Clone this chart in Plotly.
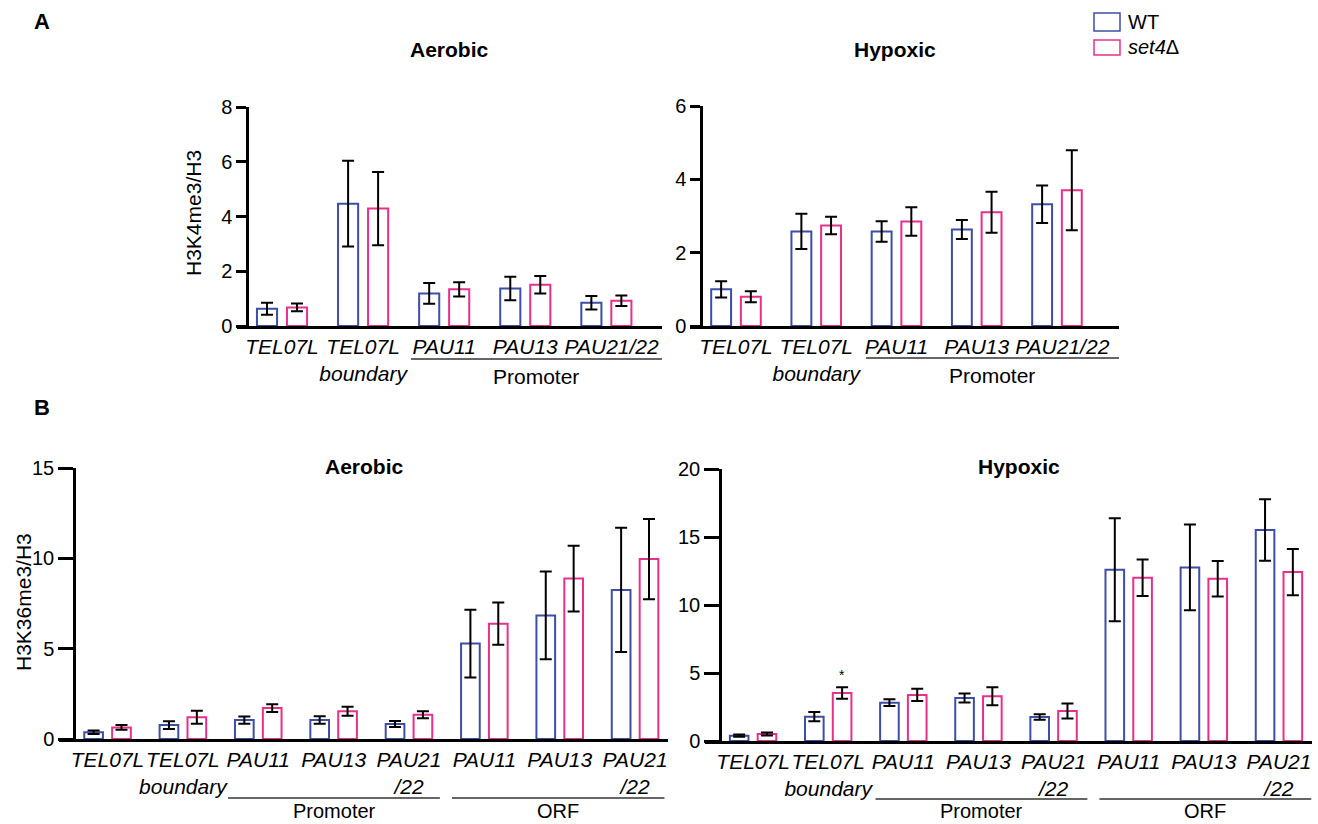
import plotly.graph_objects as go

W, H = 1318, 824

# ---------------- data ----------------
top_labels = ["TEL07L", "TEL07L<br>boundary", "PAU11", "PAU13", "PAU21/22"]
bot_labels = ["TEL07L", "TEL07L<br>boundary", "PAU11", "PAU13", "PAU21<br>/22",
              "PAU11", "PAU13", "PAU21<br>/22"]

# A: H3K4me3/H3
k4_aer_wt = [0.63, 4.47, 1.19, 1.37, 0.85]
k4_aer_wt_err = [0.22, 1.57, 0.38, 0.43, 0.25]
k4_aer_set4 = [0.68, 4.29, 1.34, 1.51, 0.92]
k4_aer_set4_err = [0.14, 1.34, 0.26, 0.32, 0.19]

k4_hyp_wt = [1.00, 2.58, 2.58, 2.63, 3.32]
k4_hyp_wt_err = [0.22, 0.48, 0.28, 0.26, 0.51]
k4_hyp_set4 = [0.80, 2.74, 2.85, 3.10, 3.70]
k4_hyp_set4_err = [0.15, 0.24, 0.39, 0.56, 1.09]

# B: H3K36me3/H3
k36_aer_wt = [0.37, 0.77, 1.05, 1.05, 0.83, 5.28, 6.84, 8.25]
k36_aer_wt_err = [0.10, 0.21, 0.20, 0.21, 0.17, 1.88, 2.43, 3.44]
k36_aer_set4 = [0.64, 1.21, 1.71, 1.53, 1.34, 6.38, 8.88, 9.96]
k36_aer_set4_err = [0.13, 0.36, 0.22, 0.25, 0.19, 1.17, 1.82, 2.22]

k36_hyp_wt = [0.39, 1.79, 2.82, 3.17, 1.77, 12.59, 12.76, 15.51]
k36_hyp_wt_err = [0.08, 0.34, 0.25, 0.33, 0.20, 3.79, 3.15, 2.26]
k36_hyp_set4 = [0.52, 3.53, 3.39, 3.29, 2.21, 12.00, 11.93, 12.42]
k36_hyp_set4_err = [0.11, 0.42, 0.45, 0.66, 0.55, 1.34, 1.31, 1.70]

BLUE = "#3d4ea6"
PINK = "#e8308a"
FONT = "Liberation Sans, Arial, sans-serif"

fig = go.Figure()

panels = [
    ("x", "y", top_labels, k4_aer_wt, k4_aer_wt_err, k4_aer_set4, k4_aer_set4_err),
    ("x2", "y2", top_labels, k4_hyp_wt, k4_hyp_wt_err, k4_hyp_set4, k4_hyp_set4_err),
    ("x3", "y3", bot_labels, k36_aer_wt, k36_aer_wt_err, k36_aer_set4, k36_aer_set4_err),
    ("x4", "y4", bot_labels, k36_hyp_wt, k36_hyp_wt_err, k36_hyp_set4, k36_hyp_set4_err),
]

for i, (xa, ya, labels, wt, wte, s4, s4e) in enumerate(panels):
    xs = list(range(len(labels)))
    for name, vals, errs, col in (("WT", wt, wte, BLUE), ("set4Δ", s4, s4e, PINK)):
        fig.add_trace(go.Bar(
            x=xs, y=vals, name=name, xaxis=xa, yaxis=ya,
            marker=dict(color="white", line=dict(color=col, width=2)),
            error_y=dict(type="data", array=errs, color="black", thickness=2, width=6),
            showlegend=False, hoverinfo="skip",
        ))

def px_x(p):
    return p / W

def px_y(p):
    return 1 - p / H

axis_font = dict(family=FONT, size=20, color="black")
tick_font_x = dict(family=FONT, size=21, color="black", style="italic")

def xaxis(dom, rng, labels, anchor, shift_last=False):
    text = list(labels)
    if shift_last:
        # the single-line last label sits slightly right of its group in the reference
        text[-1] = "\u2002" + text[-1]
    return dict(domain=[px_x(dom[0]), px_x(dom[1])], range=rng, anchor=anchor,
                tickvals=list(range(len(labels))), ticktext=text,
                showline=True, linecolor="black", linewidth=2.5,
                ticks="", tickfont=tick_font_x, showgrid=False, zeroline=False,
                tickangle=0, fixedrange=True, automargin=False)

def yaxis(dom, rng, dtick, pos, ticklen):
    return dict(domain=[px_y(dom[0]), px_y(dom[1])], range=rng, anchor="free",
                position=px_x(pos), dtick=dtick, showline=True, linecolor="black",
                linewidth=2.5, ticks="outside", ticklen=ticklen, tickwidth=2.5,
                tickcolor="black", tickfont=axis_font, showgrid=False, zeroline=False,
                fixedrange=True, automargin=False)

fig.update_layout(
    template="none",
    width=W, height=H, margin=dict(l=0, r=0, t=0, b=0, pad=0, autoexpand=False),
    paper_bgcolor="white", plot_bgcolor="rgba(0,0,0,0)",
    barmode="group", bargap=0.26, bargroupgap=0.33,
    font=dict(family=FONT, color="black"),
    xaxis=xaxis((237, 662), [-0.555, 4.686], top_labels, "y", True),
    yaxis=yaxis((326, 107), [0, 8], 2, 247, 10),
    xaxis2=xaxis((690, 1119), [-0.573, 4.773], top_labels, "y2", True),
    yaxis2=yaxis((326, 106), [0, 6], 2, 701, 10),
    xaxis3=xaxis((59, 668), [-0.644, 7.437], bot_labels, "y3"),
    yaxis3=yaxis((739, 468), [0, 15], 5, 74, 15),
    xaxis4=xaxis((705, 1312), [-0.64, 7.44], bot_labels, "y4"),
    yaxis4=yaxis((741, 469), [0, 20], 5, 720, 15),
    showlegend=False,
)

ann = []
def paper_text(text, x, y, size, bold=False, angle=0):
    ann.append(dict(text=f"<b>{text}</b>" if bold else text, x=px_x(x), y=px_y(y),
                    xref="paper", yref="paper", showarrow=False, textangle=angle,
                    xanchor="center", yanchor="middle",
                    font=dict(family=FONT, size=size, color="black")))

paper_text("A", 42, 21, 22, bold=True)
paper_text("B", 42, 407, 22, bold=True)
paper_text("Aerobic", 449, 49, 21, bold=True)
paper_text("Hypoxic", 895, 49, 21, bold=True)
paper_text("Aerobic", 364, 466, 21, bold=True)
paper_text("Hypoxic", 1019, 466, 21, bold=True)
paper_text("H3K4me3/H3", 193, 213, 21, angle=-90)
paper_text("H3K36me3/H3", 23, 602, 21, angle=-90)

shapes = []
# group brackets: (xref, x0, x1, y px, label, label y px, font size)
brackets = [
    ("x", 1.59, 4.686, 359, "Promoter", 376, 21),
    ("x2", 1.62, 4.773, 358, "Promoter", 375, 21),
    ("x3", 1.60, 4.41, 798, "Promoter", 811, 20),
    ("x3", 4.57, 7.39, 798, "ORF", 811, 20),
    ("x4", 1.63, 4.45, 799, "Promoter", 811, 20),
    ("x4", 4.61, 7.43, 799, "ORF", 811, 20),
]
for xr, x0, x1, yp, lab, ly, fs in brackets:
    shapes.append(dict(type="line", xref=xr, yref="paper", x0=x0, x1=x1,
                       y0=px_y(yp), y1=px_y(yp), line=dict(color="#333333", width=1.5)))
    ann.append(dict(text=lab, xref=xr, yref="paper", x=(x0 + x1) / 2, y=px_y(ly),
                    showarrow=False, xanchor="center", yanchor="middle",
                    font=dict(family=FONT, size=fs, color="black")))

# significance star
ann.append(dict(text="*", xref="x4", yref="y4", x=1 + 0.185,
                y=k36_hyp_set4[1] + k36_hyp_set4_err[1], yanchor="bottom", yshift=2,
                showarrow=False, font=dict(family=FONT, size=14, color="black")))

# legend
legend_items = [("WT", BLUE, 13, 31, 22), ("<i>set4</i>Δ", PINK, 40, 55, 47)]
for txt, col, y0, y1, ty in legend_items:
    shapes.append(dict(type="rect", xref="paper", yref="paper",
                       x0=px_x(1094), x1=px_x(1120), y0=px_y(y1), y1=px_y(y0),
                       line=dict(color=col, width=1.5), fillcolor="white"))
    ann.append(dict(text=txt, xref="paper", yref="paper", x=px_x(1126), y=px_y(ty),
                    xanchor="left", yanchor="middle", showarrow=False,
                    font=dict(family=FONT, size=20, color="black")))

fig.update_layout(annotations=ann, shapes=shapes)

post = (
    "document.documentElement.style.margin='0';"
    "document.documentElement.style.padding='0';"
    "document.documentElement.style.overflow='hidden';"
    "document.body.style.margin='0';"
    "document.body.style.padding='0';"
    "document.body.style.overflow='hidden';"
)
fig.write_html("out.html", config={"displayModeBar": False}, post_script=post)
